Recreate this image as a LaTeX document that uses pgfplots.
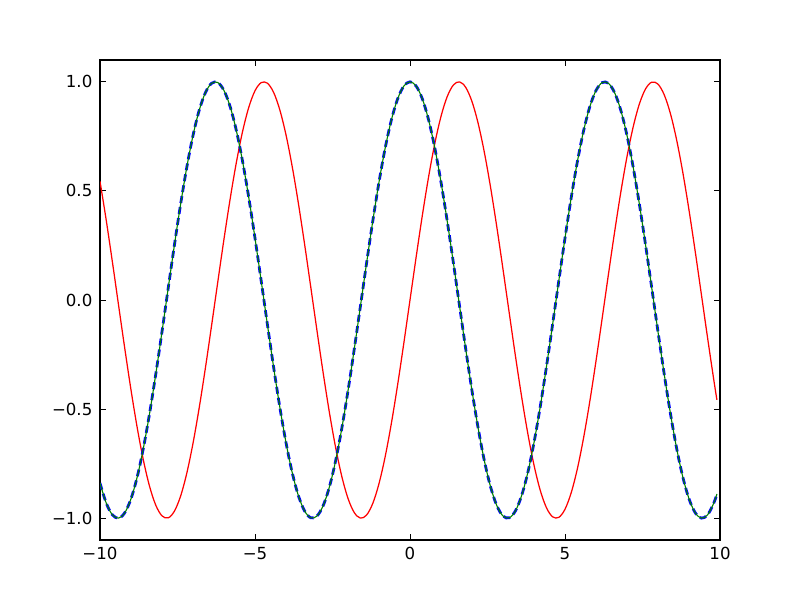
\documentclass[border=0pt]{standalone}
\usepackage{pgfplots}
\usepackage{pgfplotstable}
\pgfplotsset{compat=1.18}
\usepackage{fontspec}
\setmainfont{DejaVu Sans}
\pgfplotstableread{
x s c
-10 0.544021 -0.839072
-9.8 0.366479 -0.930426
-9.6 0.174327 -0.984688
-9.4 -0.024775 -0.999693
-9.2 -0.222890 -0.974844
-9.0 -0.412118 -0.911130
-8.8 -0.584917 -0.811093
-8.6 -0.734397 -0.678720
-8.4 -0.854599 -0.519289
-8.2 -0.940731 -0.339155
-8.0 -0.989358 -0.145500
-7.8 -0.998543 0.053955
-7.6 -0.967920 0.251260
-7.4 -0.898708 0.438547
-7.2 -0.793668 0.608351
-7.0 -0.656987 0.753902
-6.8 -0.494113 0.869397
-6.6 -0.311541 0.950233
-6.4 -0.116549 0.993185
-6.2 0.083089 0.996542
-6.0 0.279415 0.960170
-5.8 0.464602 0.885520
-5.6 0.631267 0.775566
-5.4 0.772764 0.634693
-5.2 0.883455 0.468517
-5.0 0.958924 0.283662
-4.8 0.996165 0.087499
-4.6 0.993691 -0.112153
-4.4 0.951602 -0.307333
-4.2 0.871576 -0.490261
-4.0 0.756802 -0.653644
-3.8 0.611858 -0.790968
-3.6 0.442520 -0.896758
-3.4 0.255541 -0.966798
-3.2 0.058374 -0.998295
-3.0 -0.141120 -0.989992
-2.8 -0.334988 -0.942222
-2.6 -0.515501 -0.856889
-2.4 -0.675463 -0.737394
-2.2 -0.808496 -0.588501
-2.0 -0.909297 -0.416147
-1.8 -0.973848 -0.227202
-1.6 -0.999574 -0.029200
-1.4 -0.985450 0.169967
-1.2 -0.932039 0.362358
-1.0 -0.841471 0.540302
-0.8 -0.717356 0.696707
-0.6 -0.564642 0.825336
-0.4 -0.389418 0.921061
-0.2 -0.198669 0.980067
0 0 1
0.2 0.198669 0.980067
0.4 0.389418 0.921061
0.6 0.564642 0.825336
0.8 0.717356 0.696707
1.0 0.841471 0.540302
1.2 0.932039 0.362358
1.4 0.985450 0.169967
1.6 0.999574 -0.029200
1.8 0.973848 -0.227202
2.0 0.909297 -0.416147
2.2 0.808496 -0.588501
2.4 0.675463 -0.737394
2.6 0.515501 -0.856889
2.8 0.334988 -0.942222
3.0 0.141120 -0.989992
3.2 -0.058374 -0.998295
3.4 -0.255541 -0.966798
3.6 -0.442520 -0.896758
3.8 -0.611858 -0.790968
4.0 -0.756802 -0.653644
4.2 -0.871576 -0.490261
4.4 -0.951602 -0.307333
4.6 -0.993691 -0.112153
4.8 -0.996165 0.087499
5.0 -0.958924 0.283662
5.2 -0.883455 0.468517
5.4 -0.772764 0.634693
5.6 -0.631267 0.775566
5.8 -0.464602 0.885520
6.0 -0.279415 0.960170
6.2 -0.083089 0.996542
6.4 0.116549 0.993185
6.6 0.311541 0.950233
6.8 0.494113 0.869397
7.0 0.656987 0.753902
7.2 0.793668 0.608351
7.4 0.898708 0.438547
7.6 0.967920 0.251260
7.8 0.998543 0.053955
8.0 0.989358 -0.145500
8.2 0.940731 -0.339155
8.4 0.854599 -0.519289
8.6 0.734397 -0.678720
8.8 0.584917 -0.811093
9.0 0.412118 -0.911130
9.2 0.222890 -0.974844
9.4 0.024775 -0.999693
9.6 -0.174327 -0.984688
9.8 -0.366479 -0.930426
9.9 -0.457536 -0.889191
}\data
\definecolor{mplgreen}{RGB}{0,128,0}
\begin{document}
\begin{tikzpicture}
\path (-1in,-0.6in) rectangle (7in,5.4in);
\begin{axis}[
  scale only axis,
  width=6.2in, height=4.8in,
  xmin=-10, xmax=10, ymin=-1.1, ymax=1.1,
  axis line style={line width=0.8pt},
  tick align=inside, tick pos=both,
  major tick length=4pt,
  tick style={black, line width=0.6pt},
  xtick={-10,-5,0,5,10},
  xticklabels={−10,−5,0,5,10},
  ytick={-1,-0.5,0,0.5,1},
  yticklabels={−1.0,−0.5,0.0,0.5,1.0},
  tick label style={font=\fontsize{12}{14}\selectfont},
  xticklabel style={yshift=-2pt},
  yticklabel style={xshift=-2pt},
  clip=true,
]
\addplot[red, line width=0.9pt, smooth, tension=0.55] table[x=x,y=s] {\data};
\addplot[blue, line width=2pt, smooth, tension=0.55, dash pattern=on 5pt off 3pt] table[x=x,y=c] {\data};
\addplot[mplgreen, line width=0.8pt, smooth, tension=0.55] table[x=x,y=c] {\data};
\end{axis}
\end{tikzpicture}
\end{document}
